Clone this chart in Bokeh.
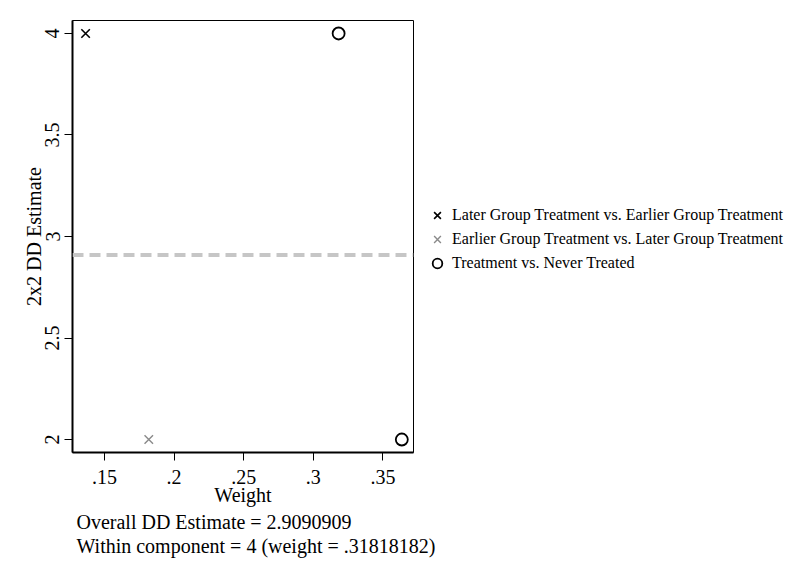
from bokeh.plotting import figure
from bokeh.models import Range1d, FixedTicker, Legend, LegendItem, Span, Title
from bokeh.embed import file_html
from bokeh.resources import INLINE

# ---- data ----
later_w = [0.1364]
later_est = [4.0]
earlier_w = [0.1818]
earlier_est = [2.0]
never_w = [0.3182, 0.3636]
never_est = [4.0, 2.0]
overall_est = 2.9090909

x_ticks = [0.15, 0.20, 0.25, 0.30, 0.35]
x_tick_labels = [".15", ".2", ".25", ".3", ".35"]
y_ticks = [2.0, 2.5, 3.0, 3.5, 4.0]
y_tick_labels = ["2", "2.5", "3", "3.5", "4"]

legend_labels = [
    "Later Group Treatment vs. Earlier Group Treatment",
    "Earlier Group Treatment vs. Later Group Treatment",
    "Treatment vs. Never Treated",
]
notes = [
    "Overall DD Estimate = 2.9090909",
    "Within component = 4 (weight = .31818182)",
]
x_title = "Weight"
y_title = "2x2 DD Estimate"

FONT = "Liberation Serif"

p = figure(frame_width=341, frame_height=432,
           x_range=Range1d(0.127, 0.372), y_range=Range1d(1.936, 4.064),
           output_backend="svg", toolbar_location=None,
           min_border_left=72, min_border_right=374,
           min_border_top=20, min_border_bottom=118)

p.xgrid.visible = False
p.ygrid.visible = False
p.background_fill_color = "white"
p.border_fill_color = "white"
p.outline_line_color = "black"
p.outline_line_width = 1

# dashed overall line
p.add_layout(Span(location=overall_est, dimension="width",
                  line_color="#c6c6c6", line_width=4, line_dash="11 6"))

r1 = p.scatter(later_w, later_est, marker="x", size=12, line_color="black", line_width=1.6)
r2 = p.scatter(earlier_w, earlier_est, marker="x", size=12, line_color="#8a8a8a", line_width=1.4)
r3 = p.scatter(never_w, never_est, marker="circle", size=12, fill_color=None,
               line_color="black", line_width=1.8)

for ax in (p.xaxis[0], p.yaxis[0]):
    ax.major_tick_out = 8
    ax.major_tick_in = 0
    ax.minor_tick_line_color = None
    ax.major_tick_line_color = "black"
    ax.major_tick_line_width = 1
    ax.axis_line_color = "black"
    ax.axis_line_width = 2
    ax.major_label_text_font = FONT
    ax.major_label_text_font_size = "20px"
    ax.major_label_text_color = "black"
    ax.axis_label_text_font = FONT
    ax.axis_label_text_font_size = "20px"
    ax.axis_label_text_font_style = "normal"
    ax.axis_label_text_color = "black"

p.xaxis.ticker = FixedTicker(ticks=x_ticks)
p.xaxis.major_label_overrides = dict(zip(x_ticks, x_tick_labels))
p.xaxis.axis_label = x_title
p.xaxis.major_label_standoff = 9
p.xaxis.axis_label_standoff = -3

p.yaxis.ticker = FixedTicker(ticks=y_ticks)
p.yaxis.major_label_overrides = dict(zip(y_ticks, y_tick_labels))
p.yaxis.major_label_orientation = "vertical"
p.yaxis.axis_label = y_title
p.yaxis.major_label_standoff = 5
p.yaxis.axis_label_standoff = -2

legend = Legend(items=[LegendItem(label=legend_labels[0], renderers=[r1]),
                       LegendItem(label=legend_labels[1], renderers=[r2]),
                       LegendItem(label=legend_labels[2], renderers=[r3])],
                location=(12, 177), orientation="vertical",
                label_text_font=FONT, label_text_font_size="16px",
                label_text_color="black",
                glyph_width=24, glyph_height=24, label_height=24,
                spacing=0, padding=4, margin=0, label_standoff=3,
                border_line_color=None, background_fill_alpha=0)
p.add_layout(legend, "right")

for t in notes:
    p.add_layout(Title(text=t, align="left", offset=4, standoff=0,
                       text_font=FONT, text_font_size="20px",
                       text_font_style="normal", text_color="black"), "below")

open("out.html", "w").write(file_html(p, INLINE))
